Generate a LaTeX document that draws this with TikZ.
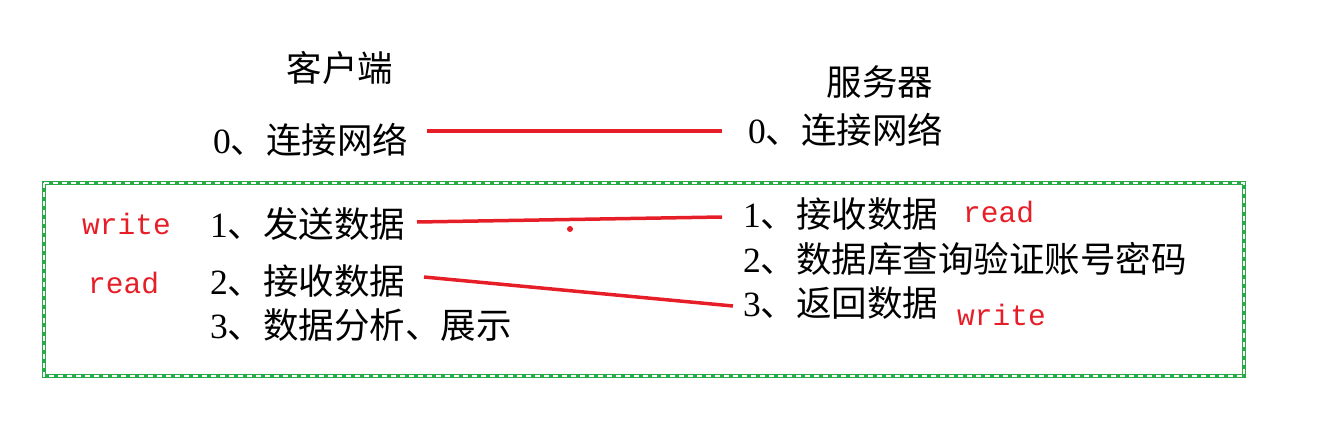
\documentclass[tikz,border=0pt]{standalone}
\usepackage{fontspec}
\setmainfont{Liberation Serif}
\newfontfamily\cjk{Noto Sans CJK SC}
\newfontfamily\monof{Liberation Mono}
\definecolor{lred}{RGB}{230,30,40}
\definecolor{fgreen}{RGB}{40,170,70}
\begin{document}
\begin{tikzpicture}[x=1pt,y=-1pt,
  lbl/.style={anchor=west,inner sep=0pt,font=\fontsize{35.5}{40}\selectfont},
  io/.style={anchor=west,inner sep=0pt,text=lred,font=\monof\fontsize{29.5}{34}\selectfont},
  link/.style={draw=lred,line width=3.5pt}]
\useasboundingbox (0,0) rectangle (1330,436);
% green frame
\draw[fgreen,line width=4.5pt] (44,183) rectangle (1244,376);
\draw[white,line width=1.3pt,dash pattern=on 5pt off 4pt] (44,183) rectangle (1244,376);
% headings
\node[lbl,anchor=center] (cli) at (340,68) {\cjk 客户端};
\node[lbl,anchor=center] (srv) at (880,82) {\cjk 服务器};
% client
\node[lbl] (c0) at (213,140) {0{\cjk 、连接网络}};
\node[lbl] (c1) at (210,224) {1{\cjk 、发送数据}};
\node[lbl] (c2) at (210,281) {2{\cjk 、接收数据}};
\node[lbl] (c3) at (210,325) {3{\cjk 、数据分析、展示}};
\node[io] (cw) at (82,224) {write};
\node[io] (cr) at (88,283) {read};
% server
\node[lbl] (s0) at (748,130) {0{\cjk 、连接网络}};
\node[lbl] (s1) at (743,214) {1{\cjk 、接收数据}};
\node[lbl] (s2) at (743,259) {2{\cjk 、数据库查询验证账号密码}};
\node[lbl] (s3) at (743,303) {3{\cjk 、返回数据}};
\node[io] (sr) at (963,212) {read};
\node[io] (sw) at (957,315) {write};
% connectors
\coordinate (a0) at (427,131); \coordinate (b0) at (722,131);
\coordinate (a1) at (417,222); \coordinate (b1) at (722,217);
\coordinate (a2) at (424,277); \coordinate (b2) at (733,306);
\draw[link] (a0) -- (b0);
\draw[link] (a1) -- (b1);
\draw[link] (a2) -- (b2);
\fill[lred] (570,229) circle (3pt);
\end{tikzpicture}
\end{document}
